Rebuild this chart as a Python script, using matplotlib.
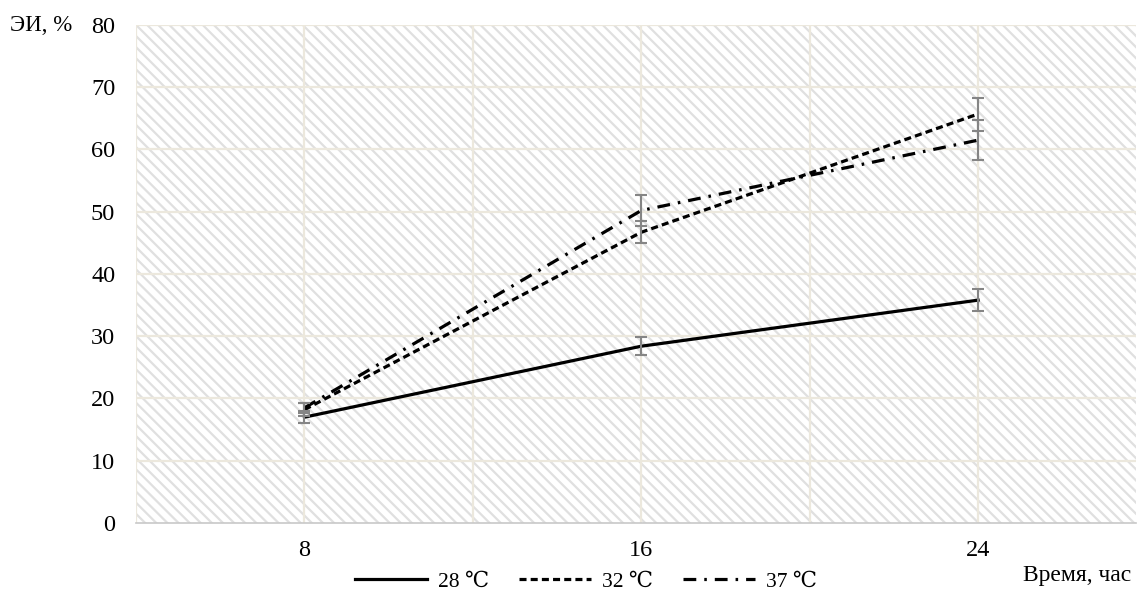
import numpy as np
import matplotlib
matplotlib.use('Agg')
import matplotlib.pyplot as plt
from matplotlib.patches import Rectangle

plt.rcParams['font.family'] = ['Liberation Serif', 'DejaVu Serif']
plt.rcParams['hatch.linewidth'] = 1.6
plt.rcParams['hatch.color'] = '#e0e0e0'

# time points, hours
hours = [8, 16, 24]
x_ticks = [8, 16, 24]
y_ticks = [0, 10, 20, 30, 40, 50, 60, 70, 80]

# mean values, %
ei_28 = [17.0, 28.4, 35.8]
ei_32 = [18.2, 46.7, 65.7]
ei_37 = [18.5, 50.2, 61.5]

# errors
err_28 = [1.0, 1.45, 1.8]
err_32 = [1.0, 1.8, 2.65]
err_37 = [0.8, 2.45, 3.2]

labels = ['28 \u2103', '32 \u2103', '37 \u2103']

fig = plt.figure(figsize=(11.38, 6.08), dpi=100)
ax = fig.add_axes([0.1195, 0.1398, 0.8787, 0.8191])

ax.set_xlim(4, 27.75)
ax.set_ylim(0, 80)

# hatched background
bg = Rectangle((0, 0), 1, 1, transform=ax.transAxes, facecolor='white',
               edgecolor='#e0e0e0', hatch='\\\\\\', linewidth=0, zorder=0)
ax.add_patch(bg)

# grid
for gx in [4, 8, 12, 16, 20, 24]:
    ax.axvline(gx, color='#ece8dd', linewidth=1.6, zorder=1)
for gy in y_ticks[1:]:
    ax.axhline(gy, color='#ece8dd', linewidth=1.6, zorder=1)

ax.plot(hours, ei_28, color='black', linewidth=2.3, linestyle='-', label=labels[0], zorder=3)
ax.plot(hours, ei_32, color='black', linewidth=2.3, linestyle=(0, (2.2, 1.3)), label=labels[1], zorder=3)
ax.plot(hours, ei_37, color='black', linewidth=2.3, linestyle=(0, (4, 2.5, 0.8, 2.5)), label=labels[2], zorder=3)

for vals, errs in [(ei_28, err_28), (ei_32, err_32), (ei_37, err_37)]:
    ax.errorbar(hours, vals, yerr=errs, fmt='none', ecolor='#858585',
                elinewidth=1.5, capsize=4.5, capthick=1.5, zorder=4)

for s in ['top', 'right', 'left']:
    ax.spines[s].set_visible(False)
ax.spines['bottom'].set_color('#c8c8c8')
ax.spines['bottom'].set_linewidth(1.2)

ax.set_xticks(x_ticks)
ax.set_yticks(y_ticks)
ax.tick_params(axis='both', length=0, labelsize=17.5, colors='black')
ax.tick_params(axis='x', pad=12)
ax.tick_params(axis='y', pad=15)

fig.text(0.009, 0.958, 'ЭИ, %', fontsize=16.5, va='center', ha='left')
fig.text(0.994, 0.054, 'Время, час', fontsize=17, va='center', ha='right')

fig.legend(loc='center', bbox_to_anchor=(0.515, 0.043), ncol=3, frameon=False,
           fontsize=15.5, handlelength=3.35, columnspacing=1.4, handletextpad=0.5)

fig.savefig('out.png', dpi=100)
